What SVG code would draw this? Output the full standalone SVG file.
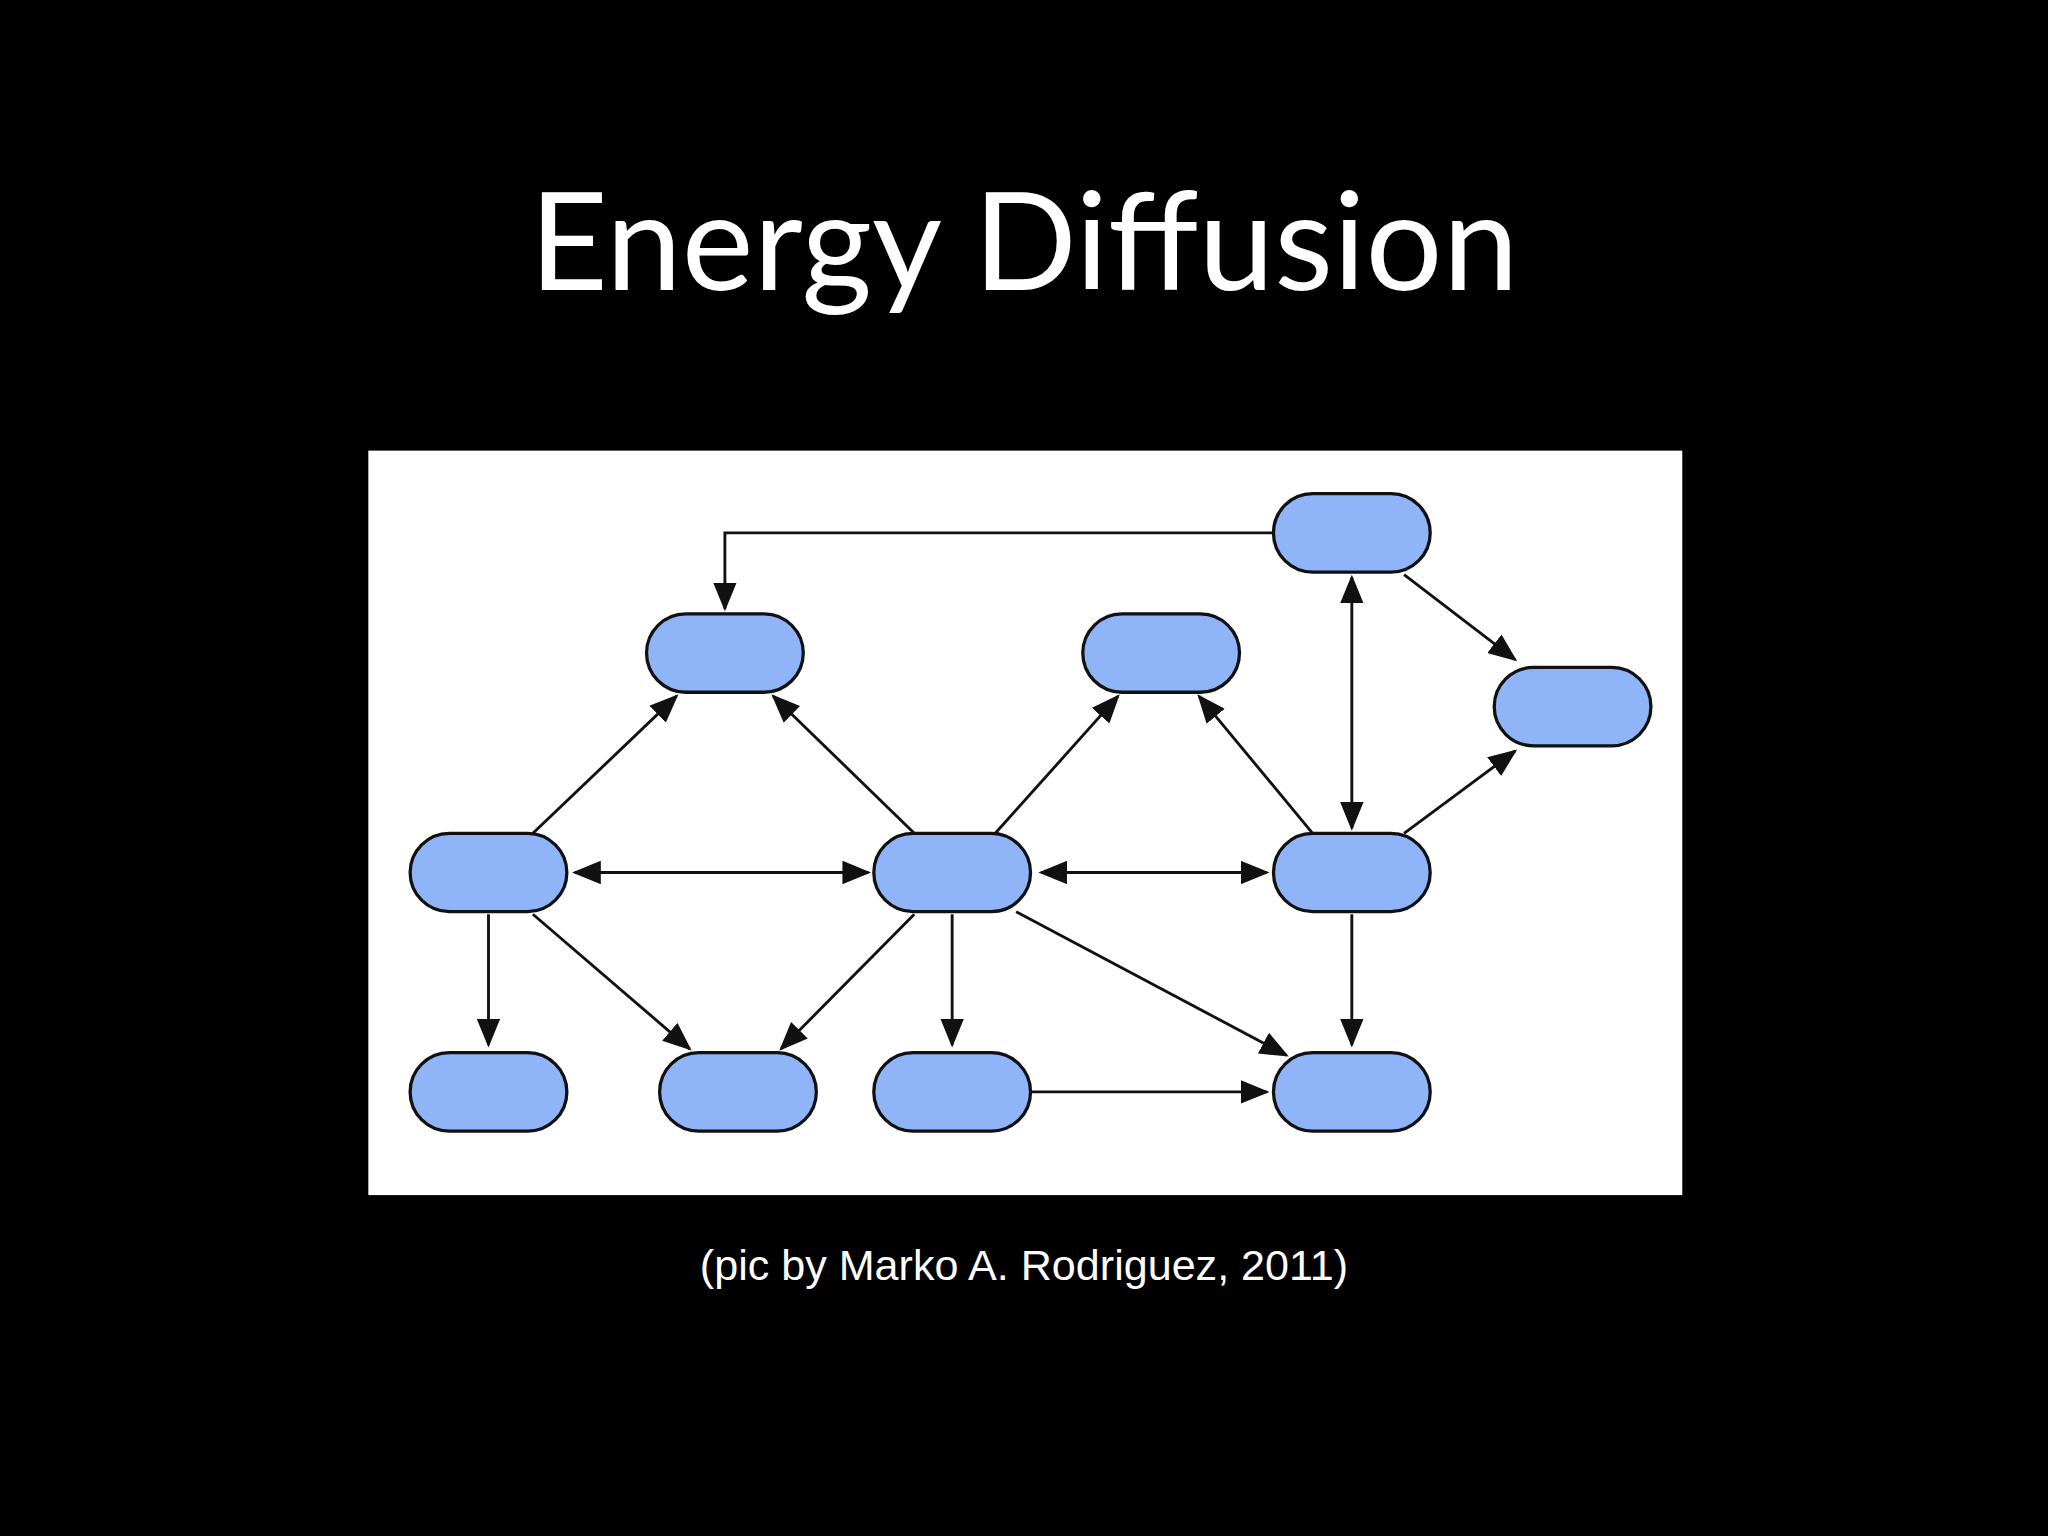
<svg xmlns="http://www.w3.org/2000/svg" width="2048" height="1536" viewBox="0 0 2048 1536">
<style>
.n{fill:#8fb4f8;stroke:#111;stroke-width:2.5}
.e{fill:none;stroke:#111;stroke-width:2.2;marker-end:url(#a)}
.b{marker-start:url(#s)}
</style>
<defs>
<marker id="a" markerUnits="userSpaceOnUse" markerWidth="22" markerHeight="18" refX="20" refY="9" orient="auto"><path d="M0,0L22,9L0,18z" fill="#111"/></marker>
<marker id="s" markerUnits="userSpaceOnUse" markerWidth="22" markerHeight="18" refX="2" refY="9" orient="auto"><path d="M22,0L0,9L22,18z" fill="#111"/></marker>
</defs>
<rect width="2048" height="1536" fill="#000"/>
<g transform="scale(1.30612)">
<text x="784" y="222" text-anchor="middle" font-family="Lato, 'Open Sans', sans-serif" font-size="104" fill="#fff">Energy Diffusion</text>
<rect x="282" y="345" width="1006" height="570" fill="#fff"/>
<g id="connectors">
<path class="e" d="M975,408H555V466"/>
<path class="e b" d="M1035,442V634"/>
<path class="e" d="M1075,440L1160,505"/>
<path class="e" d="M1075,638L1160,575"/>
<path class="e" d="M408,638L518,533"/>
<path class="e" d="M700,638L592,533"/>
<path class="e" d="M762,638L856,533"/>
<path class="e" d="M1005,638L918,533"/>
<path class="e b" d="M440,668H665"/>
<path class="e b" d="M797,668H970"/>
<path class="e" d="M374,700V800"/>
<path class="e" d="M408,700L528,803"/>
<path class="e" d="M700,700L598,803"/>
<path class="e" d="M729,700V800"/>
<path class="e" d="M778,698L985,808"/>
<path class="e" d="M1035,700V800"/>
<path class="e" d="M790,836H970"/>
</g>
<g id="n1"><rect class="n" x="975" y="378" width="120" height="60" rx="30"/></g>
<g id="n2"><rect class="n" x="495" y="470" width="120" height="60" rx="30"/></g>
<g id="n3"><rect class="n" x="829" y="470" width="120" height="60" rx="30"/></g>
<g id="n4"><rect class="n" x="1144" y="511" width="120" height="60" rx="30"/></g>
<g id="n5"><rect class="n" x="314" y="638" width="120" height="60" rx="30"/></g>
<g id="n6"><rect class="n" x="669" y="638" width="120" height="60" rx="30"/></g>
<g id="n7"><rect class="n" x="975" y="638" width="120" height="60" rx="30"/></g>
<g id="n8"><rect class="n" x="314" y="806" width="120" height="60" rx="30"/></g>
<g id="n9"><rect class="n" x="505" y="806" width="120" height="60" rx="30"/></g>
<g id="n10"><rect class="n" x="669" y="806" width="120" height="60" rx="30"/></g>
<g id="n11"><rect class="n" x="975" y="806" width="120" height="60" rx="30"/></g>
<text x="784" y="980" text-anchor="middle" font-family="'Liberation Sans', Arial, sans-serif" font-size="33" fill="#fff">(pic by Marko A. Rodriguez, 2011)</text>
</g>
</svg>
